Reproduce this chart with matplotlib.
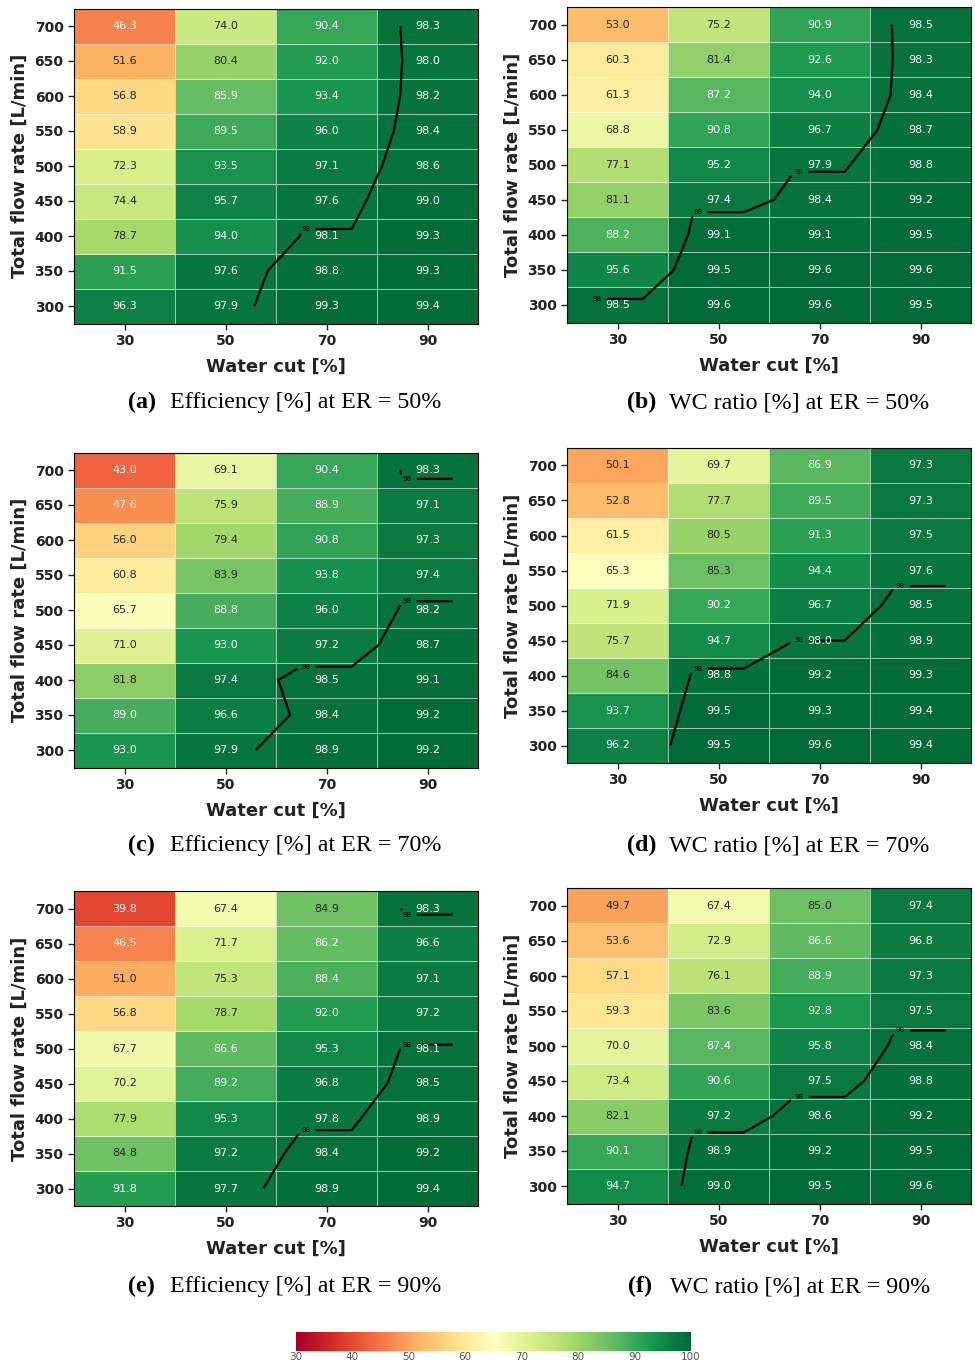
import numpy as np
import matplotlib
matplotlib.use("Agg")
import matplotlib.pyplot as plt
from matplotlib import colors as mcolors

water_cut = [30, 50, 70, 90]
flow_rate = [300, 350, 400, 450, 500, 550, 600, 650, 700]

# rows follow flow_rate (300 -> 700), columns follow water_cut
eff_er50 = [[96.3, 97.9, 99.3, 99.4],
            [91.5, 97.6, 98.8, 99.3],
            [78.7, 94.0, 98.1, 99.3],
            [74.4, 95.7, 97.6, 99.0],
            [72.3, 93.5, 97.1, 98.6],
            [58.9, 89.5, 96.0, 98.4],
            [56.8, 85.9, 93.4, 98.2],
            [51.6, 80.4, 92.0, 98.0],
            [46.3, 74.0, 90.4, 98.3]]

wc_er50 = [[98.5, 99.6, 99.6, 99.5],
           [95.6, 99.5, 99.6, 99.6],
           [88.2, 99.1, 99.1, 99.5],
           [81.1, 97.4, 98.4, 99.2],
           [77.1, 95.2, 97.9, 98.8],
           [68.8, 90.8, 96.7, 98.7],
           [61.3, 87.2, 94.0, 98.4],
           [60.3, 81.4, 92.6, 98.3],
           [53.0, 75.2, 90.9, 98.5]]

eff_er70 = [[93.0, 97.9, 98.9, 99.2],
            [89.0, 96.6, 98.4, 99.2],
            [81.8, 97.4, 98.5, 99.1],
            [71.0, 93.0, 97.2, 98.7],
            [65.7, 88.8, 96.0, 98.2],
            [60.8, 83.9, 93.8, 97.4],
            [56.0, 79.4, 90.8, 97.3],
            [47.6, 75.9, 88.9, 97.1],
            [43.0, 69.1, 90.4, 98.3]]

wc_er70 = [[96.2, 99.5, 99.6, 99.4],
           [93.7, 99.5, 99.3, 99.4],
           [84.6, 98.8, 99.2, 99.3],
           [75.7, 94.7, 98.0, 98.9],
           [71.9, 90.2, 96.7, 98.5],
           [65.3, 85.3, 94.4, 97.6],
           [61.5, 80.5, 91.3, 97.5],
           [52.8, 77.7, 89.5, 97.3],
           [50.1, 69.7, 86.9, 97.3]]

eff_er90 = [[91.8, 97.7, 98.9, 99.4],
            [84.8, 97.2, 98.4, 99.2],
            [77.9, 95.3, 97.8, 98.9],
            [70.2, 89.2, 96.8, 98.5],
            [67.7, 86.6, 95.3, 98.1],
            [56.8, 78.7, 92.0, 97.2],
            [51.0, 75.3, 88.4, 97.1],
            [46.5, 71.7, 86.2, 96.6],
            [39.8, 67.4, 84.9, 98.3]]

wc_er90 = [[94.7, 99.0, 99.5, 99.6],
           [90.1, 98.9, 99.2, 99.5],
           [82.1, 97.2, 98.6, 99.2],
           [73.4, 90.6, 97.5, 98.8],
           [70.0, 87.4, 95.8, 98.4],
           [59.3, 83.6, 92.8, 97.5],
           [57.1, 76.1, 88.9, 97.3],
           [53.6, 72.9, 86.6, 96.8],
           [49.7, 67.4, 85.0, 97.4]]

panel_tags = ["(a)", "(b)", "(c)", "(d)", "(e)", "(f)"]
panel_titles = ["Efficiency [%] at ER = 50%", "WC ratio [%] at ER = 50%",
                "Efficiency [%] at ER = 70%", "WC ratio [%] at ER = 70%",
                "Efficiency [%] at ER = 90%", "WC ratio [%] at ER = 90%"]
panel_data = [eff_er50, wc_er50, eff_er70, wc_er70, eff_er90, wc_er90]
contour_level = 98

W, H = 975, 1367
# axes boxes in pixels: left, top, right, bottom
boxes = [(74, 8.5, 478, 323.5), (567, 7, 971, 322.5),
         (74, 452.5, 478, 767.5), (567, 448, 971, 763),
         (74, 891, 478, 1206), (567, 888.5, 971, 1203.5)]
caption_x = [128, 627, 128, 627, 128, 628]
caption_y = [408, 408, 851, 851, 1292, 1292]

cmap = plt.get_cmap("RdYlGn")
norm = mcolors.Normalize(vmin=30, vmax=100)


def text_color(val):
    rgb = np.array(cmap(norm(val))[:3])
    rgb = np.where(rgb <= .03928, rgb / 12.92, ((rgb + .055) / 1.055) ** 2.4)
    lum = rgb.dot([.2126, .7152, .0722])
    return ".15" if lum > .408 else "w"


fig = plt.figure(figsize=(W / 100, H / 100), dpi=100)

x = np.array(water_cut, dtype=float)
y = np.array(flow_rate, dtype=float)
dx = x[1] - x[0]
dy = y[1] - y[0]
x_edges = np.append(x - dx / 2, x[-1] + dx / 2)
y_edges = np.append(y - dy / 2, y[-1] + dy / 2)

for i, data in enumerate(panel_data):
    z = np.array(data)
    l, t, r, b = boxes[i]
    ax = fig.add_axes([l / W, 1 - b / H, (r - l) / W, (b - t) / H])
    mesh = ax.pcolormesh(x_edges, y_edges, z, cmap=cmap, norm=norm,
                         edgecolors=(1, 1, 1, 0.6), linewidth=0.6)
    for j in range(len(y)):
        for k in range(len(x)):
            ax.text(x[k], y[j], "%.1f" % z[j, k], ha="center", va="center",
                    fontsize=8, color=text_color(z[j, k]))

    # 98 % iso-line, each water-cut column held flat across its cell
    xs = np.repeat(x, 2) + np.tile([-dx / 4, dx / 4], len(x))
    zz = np.repeat(z, 2, axis=1)
    cs = ax.contour(xs, y, zz, levels=[contour_level - 1e-6], colors="k",
                    linewidths=1.6)
    spots = []
    for seg in cs.allsegs[0]:
        for p in range(len(seg) - 1):
            if abs(seg[p, 1] - seg[p + 1, 1]) < 1e-9 and abs(seg[p, 0] - seg[p + 1, 0]) > 1:
                spots.append((min(seg[p, 0], seg[p + 1, 0]) + 1, seg[p, 1]))
    if spots:
        ax.clabel(cs, fmt="%.0f", fontsize=5, inline=True, manual=spots)
    else:
        ax.clabel(cs, fmt="%.0f", fontsize=5, inline=True)

    ax.set_xlim(x_edges[0], x_edges[-1])
    ax.set_ylim(y_edges[0], y_edges[-1])
    ax.set_xticks(water_cut)
    ax.set_yticks(flow_rate)
    ax.tick_params(length=4, width=1, labelsize=10, colors="#222222")
    for lab in ax.get_xticklabels() + ax.get_yticklabels():
        lab.set_fontweight("bold")
    ax.set_xlabel("Water cut [%]", fontsize=13, fontweight="bold",
                  color="#222222", labelpad=7)
    ax.set_ylabel("Total flow rate [L/min]", fontsize=13, fontweight="bold",
                  color="#222222", labelpad=4)

    fig.text(caption_x[i] / W, 1 - caption_y[i] / H, panel_tags[i],
             family="Liberation Serif", fontweight="bold", fontsize=17.3,
             va="baseline", ha="left")
    fig.text((caption_x[i] + 42) / W, 1 - caption_y[i] / H, panel_titles[i],
             family="Liberation Serif", fontsize=17.3, va="baseline", ha="left")

cax = fig.add_axes([296 / W, 1 - 1351 / H, 395 / W, 19 / H])
cb = fig.colorbar(mesh, cax=cax, orientation="horizontal")
cb.outline.set_visible(False)
cb.set_ticks([30, 40, 50, 60, 70, 80, 90, 100])
cax.tick_params(length=0, pad=1, labelsize=7.5, labelcolor="#555555")

fig.savefig("out.png", dpi=100)
